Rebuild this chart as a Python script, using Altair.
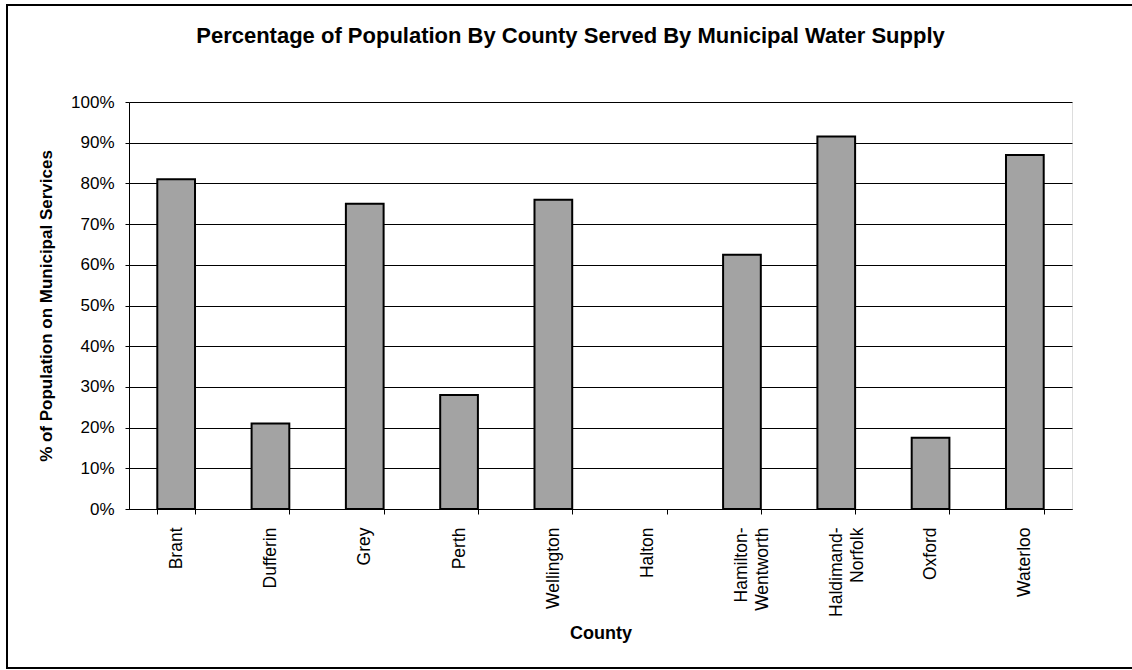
import altair as alt
import pandas as pd

# County names and the share of each county's population on municipal water
counties = [
    "Brant", "Dufferin", "Grey", "Perth", "Wellington", "Halton",
    "Hamilton-Wentworth", "Haldimand-Norfolk", "Oxford", "Waterloo",
]
served = [0.81, 0.21, 0.75, 0.28, 0.76, 0.0, 0.625, 0.915, 0.175, 0.87]
y_ticks = [0.0, 0.1, 0.2, 0.3, 0.4, 0.5, 0.6, 0.7, 0.8, 0.9, 1.0]

df = pd.DataFrame({"County": counties, "Served": served})

FONT = "Liberation Sans"
W, H = 943, 407

# hyphenated county names wrap after the hyphen
label_expr = (
    "indexof(datum.label, '-') > 0 ? "
    "[slice(datum.label, 0, indexof(datum.label, '-') + 1), "
    "slice(datum.label, indexof(datum.label, '-') + 1)] : datum.label"
)

bars = alt.Chart(df).mark_bar(
    color="#a3a3a3", stroke="#000000", strokeWidth=2
).encode(
    x=alt.X(
        "County:N",
        sort=counties,
        scale=alt.Scale(paddingInner=0.6, paddingOuter=0.3),
        axis=alt.Axis(
            title="County",
            labelAngle=270,
            labelAlign="right",
            labelBaseline="middle",
            labelFont=FONT,
            labelFontSize=17.5,
            labelColor="#000000",
            labelPadding=13,
            labelLineHeight=21,
            labelExpr=label_expr,
            tickSize=5,
            tickBand="extent",
            tickColor="#000000",
            domainColor="#000000",
            titleFont=FONT,
            titleFontSize=18,
            titleFontWeight="bold",
            titleColor="#000000",
            titleY=124,
            titleBaseline="middle",
        ),
    ),
    y=alt.Y(
        "Served:Q",
        scale=alt.Scale(domain=[0, 1], nice=False),
        axis=alt.Axis(
            values=y_ticks,
            format=".0%",
            title="% of Population on Municipal Services",
            labelFont=FONT,
            labelFontSize=17,
            labelColor="#000000",
            labelPadding=11,
            tickSize=4,
            tickColor="#000000",
            domainColor="#000000",
            grid=True,
            gridColor="#000000",
            gridWidth=1,
            gridOpacity=1,
            titleFont=FONT,
            titleFontSize=17,
            titleFontWeight="bold",
            titleColor="#000000",
            titleAngle=270,
            titleX=-83,
            titleY=H / 2,
            titleAlign="center",
            titleBaseline="middle",
        ),
    ),
    # a county with no served population gets no outline either
    strokeOpacity=alt.condition("datum.Served > 0", alt.value(1), alt.value(0)),
)

# outer frame around the whole figure
frame = alt.Chart(pd.DataFrame({"k": [0]})).mark_rect(
    fillOpacity=0, stroke="#000000", strokeWidth=2
).encode(
    x=alt.value(-122), x2=alt.value(1012), y=alt.value(-97), y2=alt.value(566)
)

# the title sits above the frame's bounds, so its offset is negative
chart = alt.layer(bars, frame).properties(
    width=W,
    height=H,
    title=alt.TitleParams(
        "Percentage of Population By County Served By Municipal Water Supply",
        font=FONT,
        fontSize=22,
        fontWeight="bold",
        color="#000000",
        anchor="middle",
        dx=-30,
        offset=-44,
    ),
    autosize=alt.AutoSizeParams(type="none"),
    padding={"left": 129, "top": 102, "right": 60, "bottom": 161},
).configure_view(
    stroke="#000000", strokeWidth=1
).configure(background="#ffffff")

chart.save("out.html", embed_options={"renderer": "svg", "actions": False})
